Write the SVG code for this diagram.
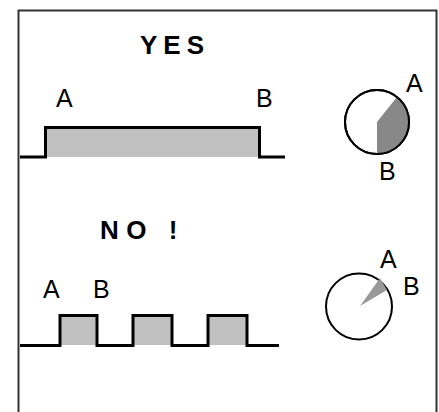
<svg xmlns="http://www.w3.org/2000/svg" width="439" height="412" viewBox="0 0 439 412">
<style>
.t{font-family:"Liberation Sans",Arial,sans-serif;font-size:25px;fill:#000}
.h{font-family:"Liberation Sans",Arial,sans-serif;font-size:26px;font-weight:bold;fill:#000;letter-spacing:6px}
.sig{fill:none;stroke:#000;stroke-width:3;stroke-linejoin:miter}
.dial{fill:#fff;stroke:#000;stroke-width:2}
</style>
<rect width="439" height="412" fill="#fff"/>
<path d="M18.5,412 V10.5 H436.5 V412" fill="none" stroke="#333" stroke-width="2"/>
<g id="yes">
<text class="h" x="140" y="54">YES</text>
<text class="t" x="56" y="107">A</text>
<text class="t" x="256" y="107">B</text>
<rect x="46" y="127" width="213" height="30" fill="#c0c0c0"/>
<path class="sig" d="M20,157 H45.5 V127.5 H259.5 V157 H285"/>
</g>
<g id="yes-dial">
<circle class="dial" cx="377" cy="122" r="32"/>
<path d="M377,122 L397,97 A32,32 0 0 1 377,154 Z" fill="#888"/>
<circle cx="377" cy="122" r="32" fill="none" stroke="#000" stroke-width="2"/>
<text class="t" x="406" y="92">A</text>
<text class="t" x="379" y="180">B</text>
</g>
<g id="no">
<text class="h" x="100" y="239" style="letter-spacing:7.5px">NO !</text>
<text class="t" x="43" y="298">A</text>
<text class="t" x="93" y="298">B</text>
<rect x="60" y="315" width="37" height="30" fill="#c0c0c0"/>
<rect x="133" y="315" width="39" height="30" fill="#c0c0c0"/>
<rect x="208" y="315" width="39" height="30" fill="#c0c0c0"/>
<path class="sig" d="M20,345.5 H60 V315.5 H97 V345.5 H133 V315.5 H172 V345.5 H208 V315.5 H247 V345.5 H279"/>
</g>
<g id="no-dial">
<circle class="dial" cx="359" cy="306.5" r="33"/>
<path d="M360,306 L380,278 L387,290 Z" fill="#999"/>
<text class="t" x="380" y="268">A</text>
<text class="t" x="403" y="295">B</text>
</g>
</svg>
